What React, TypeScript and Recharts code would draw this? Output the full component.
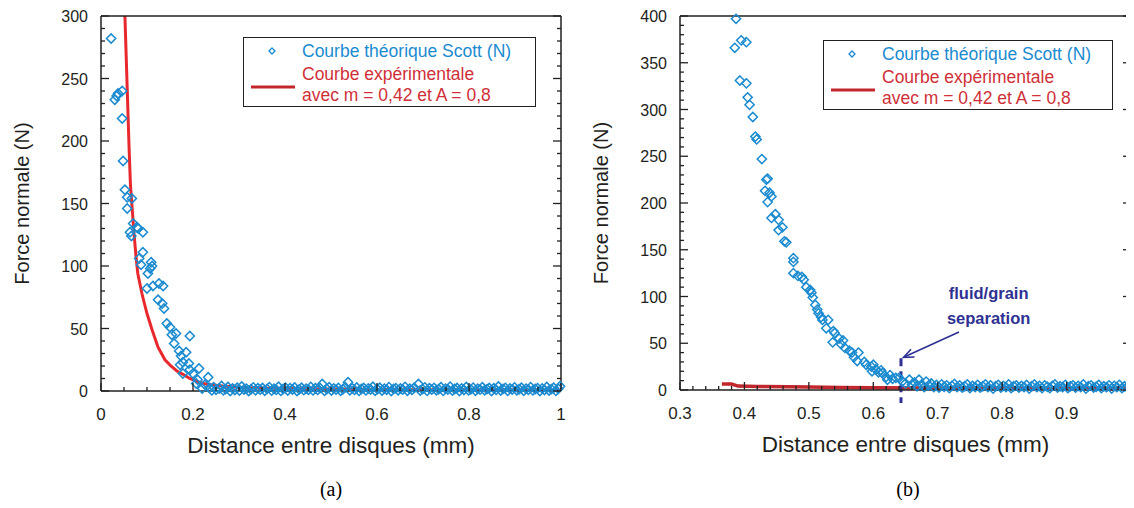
import { ComposedChart, Line, ReferenceDot, ReferenceLine, Scatter, XAxis, YAxis } from 'recharts';

const BLUE = '#1b8bd0';
const RED = '#e8282d';
const DARK_RED = '#c1272d';
const RED_TEXT = '#cf3038';
const NAVY = '#2e3192';
const AXIS = '#231f20';
const SANS = "'Liberation Sans', Arial, Helvetica, sans-serif";

type Pt = [number, number];

// ---- (a) data ----
const scottA: Pt[] = [
  [0.022, 282], [0.030, 233], [0.034, 236], [0.037, 238], [0.046, 240], [0.046, 218], [0.048, 184],
  [0.052, 161], [0.057, 155], [0.057, 146], [0.067, 154], [0.07, 134], [0.063, 127], [0.066, 124],
  [0.078, 131], [0.081, 130], [0.091, 127], [0.091, 111], [0.083, 106], [0.087, 101], [0.109, 103],
  [0.111, 100], [0.107, 98], [0.102, 94], [0.1, 82], [0.113, 84], [0.126, 86], [0.135, 84],
  [0.124, 73], [0.133, 70], [0.137, 66], [0.143, 54], [0.15, 51], [0.154, 45], [0.163, 46],
  [0.159, 38], [0.193, 44], [0.17, 32], [0.185, 31], [0.174, 28], [0.178, 23], [0.191, 22],
  [0.172, 21], [0.178, 14], [0.193, 17], [0.2, 14], [0.213, 18], [0.207, 6], [0.233, 11],
  [0.226, 5], [0.22, 2], [0.241, 0.5], [0.21, 9], [0.245, 3],
  [0.236, 2.5], [0.25, 1], [0.257, 2], [0.262, 4], [0.266, 0.5], [0.271, 1.5], [0.276, 3.2],
  [0.281, 0], [0.286, 2.1], [0.291, 0.8], [0.296, 2.6], [0.301, 0.4], [0.306, 3.6], [0.311, 1.2],
  [0.316, 1.9], [0.321, 0], [0.326, 1.4], [0.331, 2.9], [0.336, 0.6], [0.341, 2.2], [0.346, 1.1],
  [0.351, 2.4], [0.356, 0.2], [0.361, 1.7], [0.366, 3.1], [0.371, 0.3], [0.376, 1.8], [0.381, 0.9],
  [0.386, 3.4], [0.391, 0.1], [0.396, 1.6], [0.401, 2.7], [0.406, 0.4], [0.411, 2.3], [0.416, 1.2],
  [0.421, 2.8], [0.426, 0], [0.431, 1.3], [0.436, 2.6], [0.441, 0.7], [0.446, 1.9], [0.451, 1],
  [0.456, 3.3], [0.461, 0.5], [0.466, 2.2], [0.471, 0.9], [0.476, 2.4], [0.481, 5.6], [0.486, 0.1],
  [0.491, 1.6], [0.496, 3], [0.501, 0.4], [0.506, 2.1], [0.511, 1.1], [0.516, 2.5], [0.521, 0.2],
  [0.526, 1.4], [0.531, 3.1], [0.537, 7], [0.541, 0.6], [0.546, 2.2], [0.551, 0.9], [0.556, 2.8],
  [0.561, 0.1], [0.566, 1.6], [0.571, 2.4], [0.576, 0.5], [0.581, 2.1], [0.586, 1.2], [0.591, 3.4],
  [0.596, 0.2], [0.601, 1.5], [0.606, 2.6], [0.611, 0.4], [0.616, 1.9], [0.621, 1], [0.626, 3.1],
  [0.631, 0], [0.636, 1.7], [0.641, 2.3], [0.646, 0.6], [0.651, 2], [0.656, 1.1], [0.661, 3.3],
  [0.666, 0.2], [0.671, 1.8], [0.676, 0.9], [0.681, 2.6], [0.69, 5.6], [0.694, 0.4], [0.699, 1.5],
  [0.704, 2.9], [0.709, 0.1], [0.714, 2.2], [0.719, 1.1], [0.724, 2.5], [0.729, 0.6], [0.734, 1.4],
  [0.739, 3], [0.744, 0.1], [0.749, 1.9], [0.754, 1.2], [0.759, 3.5], [0.764, 0.4], [0.769, 1.6],
  [0.774, 2.4], [0.779, 0], [0.784, 2.1], [0.789, 0.8], [0.794, 3.2], [0.799, 0.5], [0.804, 1.3],
  [0.809, 2.7], [0.814, 0.2], [0.819, 1.8], [0.824, 1.1], [0.829, 3], [0.834, 0.6], [0.839, 1.5],
  [0.844, 2.4], [0.849, 0], [0.854, 2.2], [0.859, 0.9], [0.864, 3.6], [0.869, 0.4], [0.874, 1.7],
  [0.879, 2.5], [0.884, 0.1], [0.889, 2], [0.894, 1.2], [0.899, 2.9], [0.904, 0.6], [0.909, 1.4],
  [0.914, 2.6], [0.919, 0.2], [0.924, 1.9], [0.929, 1], [0.934, 3.1], [0.939, 0.5], [0.944, 1.6],
  [0.949, 2.3], [0.954, 0], [0.959, 2.1], [0.964, 0.8], [0.969, 3.2], [0.974, 0.4], [0.979, 1.5],
  [0.984, 2.6], [0.989, 0.1], [0.994, 1.8], [0.998, 3.8],
];

const expA: Pt[] = [
  [0.052, 300], [0.055, 265], [0.058, 230], [0.061, 195], [0.064, 165], [0.068, 145], [0.072, 125],
  [0.076, 108], [0.08, 94], [0.085, 85], [0.089, 78], [0.095, 69], [0.1, 62], [0.111, 49],
  [0.124, 35], [0.139, 25], [0.152, 20], [0.165, 16], [0.18, 13], [0.193, 10], [0.21, 7.5],
  [0.222, 6], [0.24, 5], [0.265, 4], [0.3, 3], [0.34, 2.4], [0.4, 2], [0.5, 1.6], [0.6, 1.3],
  [0.7, 1.1], [0.8, 1], [0.9, 0.9], [1, 0.8],
];

// ---- (b) data ----
const scottB: Pt[] = [
  [0.387, 397], [0.395, 374], [0.403, 372], [0.385, 366], [0.393, 331], [0.403, 328], [0.405, 313],
  [0.408, 305], [0.413, 292], [0.417, 271], [0.419, 268], [0.427, 247], [0.436, 226], [0.432, 213],
  [0.439, 211], [0.442, 207], [0.436, 201], [0.434, 225], [0.448, 188], [0.442, 184], [0.453, 182],
  [0.459, 174], [0.453, 171], [0.462, 159], [0.465, 158], [0.476, 141], [0.476, 137], [0.476, 125],
  [0.483, 122], [0.489, 121], [0.492, 118], [0.496, 110], [0.502, 107], [0.504, 104], [0.506, 99],
  [0.51, 91], [0.513, 86], [0.515, 82], [0.519, 78], [0.521, 75], [0.53, 75], [0.527, 66],
  [0.538, 63], [0.54, 61], [0.537, 51], [0.547, 55], [0.553, 53], [0.55, 49], [0.556, 45],
  [0.563, 42], [0.567, 40], [0.577, 40], [0.57, 35], [0.575, 31], [0.586, 30], [0.589, 27],
  [0.597, 25], [0.598, 20], [0.608, 19], [0.614, 18], [0.62, 14], [0.622, 11], [0.6, 27],
  [0.604, 22], [0.612, 21], [0.626, 16], [0.63, 12], [0.635, 13], [0.64, 13], [0.645, 9],
  [0.65, 7], [0.656, 11], [0.66, 6], [0.664, 8], [0.668, 4], [0.671, 11], [0.675, 6],
  [0.679, 3], [0.682, 9], [0.686, 5], [0.69, 7], [0.694, 3], [0.698, 5.5], [0.702, 2.5],
  [0.706, 6], [0.71, 3.5], [0.714, 5], [0.718, 2], [0.722, 4.5], [0.726, 6.5], [0.73, 3],
  [0.734, 5], [0.738, 2.5], [0.742, 4], [0.746, 6], [0.75, 2], [0.754, 4.5], [0.758, 3],
  [0.762, 5.5], [0.766, 2.5], [0.77, 4], [0.774, 6], [0.778, 3], [0.782, 5], [0.786, 1.5],
  [0.79, 4], [0.794, 5.5], [0.798, 2.5], [0.802, 4.5], [0.806, 3], [0.81, 6], [0.814, 2],
  [0.818, 4], [0.822, 5], [0.826, 2.5], [0.83, 4.5], [0.834, 3], [0.838, 5.5], [0.842, 1.5],
  [0.846, 4], [0.85, 6], [0.854, 3], [0.858, 4.5], [0.862, 2], [0.866, 5], [0.87, 3.5],
  [0.874, 2], [0.878, 4.5], [0.882, 6], [0.886, 2.5], [0.89, 4], [0.894, 3], [0.898, 5.5],
  [0.902, 2], [0.906, 4], [0.91, 5], [0.914, 2.5], [0.918, 4.5], [0.922, 3], [0.926, 6],
  [0.93, 1.5], [0.934, 4], [0.938, 5], [0.942, 2.5], [0.946, 3.5], [0.95, 5.5], [0.954, 2],
  [0.958, 4], [0.962, 3], [0.966, 5], [0.97, 1.5], [0.974, 4.5], [0.978, 3], [0.982, 5.5],
  [0.986, 2], [0.99, 4], [0.994, 3], [0.998, 6],
];

const expB: Pt[] = [
  [0.365, 6.5], [0.38, 6.4], [0.39, 4.2], [0.42, 3.8], [0.47, 3.5], [0.5, 3.3], [0.55, 2.8],
  [0.6, 2.4], [0.7, 2.1], [0.8, 1.9], [0.9, 1.7], [1, 1.6],
];

// ---- ticks ----
const xMajorA = [0, 0.2, 0.4, 0.6, 0.8, 1];
const yMajorA = [0, 50, 100, 150, 200, 250, 300];
const xMajorB = [0.3, 0.4, 0.5, 0.6, 0.7, 0.8, 0.9, 1];
const yMajorB = [0, 50, 100, 150, 200, 250, 300, 350, 400];

const range = (start: number, stop: number, step: number) => {
  const out: number[] = [];
  const n = Math.round((stop - start) / step);
  for (let i = 0; i <= n; i++) out.push(+(start + i * step).toFixed(4));
  return out;
};
const xMinorA = range(0, 1, 0.05);
const yMinorA = range(0, 300, 10);
const xMinorB = range(0.3, 1, 0.02);
const yMinorB = range(0, 400, 10);

const toRows = (pts: Pt[]) => pts.map(([x, y]) => ({ x, y }));
const fmtX = (v: number) => (v === 0 ? '0' : v === 1 ? '1' : String(v));

type Side = 'bottom' | 'top' | 'left' | 'right';

function AxisTick(props: any) {
  const { x, y, payload, side, majors, showLabel } = props as {
    x: number;
    y: number;
    payload: { value: number };
    side: Side;
    majors: number[];
    showLabel?: boolean;
  };
  const v = payload.value;
  const major = majors.some((m) => Math.abs(m - v) < 1e-6);
  const len = major ? 8 : 4;
  let line;
  if (side === 'bottom') line = <line x1={x} y1={y} x2={x} y2={y - len} />;
  else if (side === 'top') line = <line x1={x} y1={y} x2={x} y2={y + len} />;
  else if (side === 'left') line = <line x1={x} y1={y} x2={x + len} y2={y} />;
  else line = <line x1={x} y1={y} x2={x - len} y2={y} />;
  return (
    <g stroke={AXIS} strokeWidth={1.3}>
      {line}
      {showLabel && major && side === 'bottom' ? (
        <text x={x} y={y + 29} textAnchor="middle" stroke="none" fill={AXIS} fontSize={17} fontFamily={SANS}>
          {fmtX(v)}
        </text>
      ) : null}
      {showLabel && major && side === 'left' ? (
        <text x={x - 13} y={y + 6} textAnchor="end" stroke="none" fill={AXIS} fontSize={16} fontFamily={SANS}>
          {v}
        </text>
      ) : null}
    </g>
  );
}

const Diamond = (props: any) => {
  const { cx, cy } = props;
  if (cx == null || cy == null) return <g />;
  const r = 4.6;
  return (
    <polygon
      points={`${cx},${cy - r} ${cx + r},${cy} ${cx},${cy + r} ${cx - r},${cy}`}
      fill="none"
      stroke={BLUE}
      strokeWidth={1.5}
    />
  );
};

const YTitle = (dx: number) => (props: any) => {
  const { x, y, height } = props.viewBox;
  const cx = x + dx;
  const cy = y + height / 2;
  return (
    <text
      x={cx}
      y={cy}
      transform={`rotate(-90 ${cx} ${cy})`}
      textAnchor="middle"
      dominantBaseline="central"
      fontSize={20}
      fontFamily={SANS}
      fill={AXIS}
    >
      Force normale (N)
    </text>
  );
};

const XTitle = (props: any) => {
  const { x, y, width } = props.viewBox;
  return (
    <text x={x + width / 2} y={y + 62} textAnchor="middle" fontSize={22.5} fontFamily={SANS} fill={AXIS}>
      Distance entre disques (mm)
    </text>
  );
};

const Arrow = (props: any) => {
  const { x1, y1, x2, y2 } = props;
  const a = Math.atan2(y2 - y1, x2 - x1);
  const h = 11;
  const s = 0.4;
  return (
    <g stroke={NAVY} strokeWidth={1.6} fill="none">
      <line x1={x1} y1={y1} x2={x2} y2={y2} />
      <polyline
        points={`${x2 - h * Math.cos(a - s)},${y2 - h * Math.sin(a - s)} ${x2},${y2} ${x2 - h * Math.cos(a + s)},${y2 - h * Math.sin(a + s)}`}
      />
    </g>
  );
};

const Note = (props: any) => {
  const { cx, cy } = props;
  return (
    <g fill={NAVY} fontFamily={SANS} fontWeight="bold" fontSize={16.5} textAnchor="middle">
      <text x={cx} y={cy}>fluid/grain</text>
      <text x={cx} y={cy + 25}>separation</text>
    </g>
  );
};

type PanelProps = {
  scott: Pt[];
  exp: Pt[];
  xDomain: [number, number];
  yDomain: [number, number];
  xMajor: number[];
  xMinor: number[];
  yMajor: number[];
  yMinor: number[];
  width: number;
  height: number;
  margin: { top: number; right: number; bottom: number; left: number };
  yAxisWidth: number;
  xAxisHeight: number;
  yTitleX: number;
  lineColor: string;
  lineWidth: number;
  children?: any;
};

// top and right axes are 1px wide: they only carry the box edge and its inner ticks
function Panel(p: PanelProps) {
  const axisLine = { stroke: AXIS, strokeWidth: 1.5 };
  return (
    <ComposedChart width={p.width} height={p.height} margin={p.margin}>
      <XAxis
        dataKey="x"
        type="number"
        domain={p.xDomain}
        ticks={p.xMinor}
        interval={0}
        height={p.xAxisHeight}
        tickSize={0}
        tickMargin={0}
        tickLine={false}
        axisLine={axisLine}
        tick={(t: any) => <AxisTick {...t} side="bottom" majors={p.xMajor} showLabel />}
        label={XTitle}
      />
      <XAxis
        xAxisId="top"
        orientation="top"
        type="number"
        domain={p.xDomain}
        allowDataOverflow
        ticks={p.xMinor}
        interval={0}
        height={1}
        tickSize={0}
        tickMargin={0}
        tickLine={false}
        axisLine={axisLine}
        tick={(t: any) => <AxisTick {...t} side="top" majors={p.xMajor} />}
      />
      <YAxis
        dataKey="y"
        type="number"
        domain={p.yDomain}
        ticks={p.yMinor}
        interval={0}
        width={p.yAxisWidth}
        tickSize={0}
        tickMargin={0}
        tickLine={false}
        axisLine={axisLine}
        tick={(t: any) => <AxisTick {...t} side="left" majors={p.yMajor} showLabel />}
        label={YTitle(p.yTitleX)}
      />
      <YAxis
        yAxisId="right"
        orientation="right"
        type="number"
        domain={p.yDomain}
        allowDataOverflow
        ticks={p.yMinor}
        interval={0}
        width={1}
        tickSize={0}
        tickMargin={0}
        tickLine={false}
        axisLine={axisLine}
        tick={(t: any) => <AxisTick {...t} side="right" majors={p.yMajor} />}
      />
      <Line
        data={toRows(p.exp)}
        dataKey="y"
        type="linear"
        stroke={p.lineColor}
        strokeWidth={p.lineWidth}
        dot={false}
        activeDot={false}
        isAnimationActive={false}
      />
      <Scatter data={toRows(p.scott)} dataKey="y" shape={Diamond} isAnimationActive={false} />
      {p.children}
    </ComposedChart>
  );
}

type LegendBoxProps = { left: number; top: number; width: number };

function LegendBox({ left, top, width }: LegendBoxProps) {
  const text = { position: 'absolute' as const, left: 58, fontSize: 17.5, fontFamily: SANS, whiteSpace: 'nowrap' as const, lineHeight: '20px' };
  return (
    <div
      style={{
        position: 'absolute',
        left,
        top,
        width,
        height: 70,
        border: `1.5px solid ${AXIS}`,
        background: '#fff',
        boxSizing: 'border-box',
      }}
    >
      <svg style={{ position: 'absolute', left: 0, top: 0 }} width={60} height={70}>
        <polygon points="28,10 31,13 28,16 25,13" fill="none" stroke={BLUE} strokeWidth={1.3} />
        <line x1={7} y1={49} x2={51} y2={49} stroke={DARK_RED} strokeWidth={3} />
      </svg>
      <div style={{ ...text, top: 3, color: BLUE }}>Courbe théorique Scott (N)</div>
      <div style={{ ...text, top: 26, color: RED_TEXT }}>Courbe expérimentale</div>
      <div style={{ ...text, top: 47, color: RED_TEXT }}>avec m = 0,42 et A = 0,8</div>
    </div>
  );
}

export default function App() {
  return (
    <div style={{ position: 'relative', width: 1134, height: 508, margin: -8, background: '#fff', overflow: 'hidden' }}>
      <div style={{ position: 'absolute', left: 0, top: 0 }}>
        <Panel
          scott={scottA}
          exp={expA}
          xDomain={[0, 1]}
          yDomain={[0, 300]}
          xMajor={xMajorA}
          xMinor={xMinorA}
          yMajor={yMajorA}
          yMinor={yMinorA}
          width={580}
          height={470}
          margin={{ top: 15, right: 18, bottom: 0, left: 0 }}
          yAxisWidth={101}
          xAxisHeight={79}
          yTitleX={22}
          lineColor={RED}
          lineWidth={3}
        />
      </div>
      <div style={{ position: 'absolute', left: 580, top: 0 }}>
        <Panel
          scott={scottB}
          exp={expB}
          xDomain={[0.3, 1]}
          yDomain={[0, 400]}
          xMajor={xMajorB}
          xMinor={xMinorB}
          yMajor={yMajorB}
          yMinor={yMinorB}
          width={554}
          height={470}
          margin={{ top: 15, right: 2, bottom: 0, left: 0 }}
          yAxisWidth={100}
          xAxisHeight={80}
          yTitleX={21}
          lineColor={DARK_RED}
          lineWidth={3.5}
        >
          <ReferenceLine
            segment={[{ x: 0.643, y: 34 }, { x: 0.643, y: -14 }]}
            stroke={NAVY}
            strokeWidth={3}
            strokeDasharray="8 5"
            ifOverflow="visible"
          />
          <ReferenceLine
            segment={[{ x: 0.733, y: 62 }, { x: 0.647, y: 35 }]}
            ifOverflow="visible"
            shape={Arrow}
          />
          <ReferenceDot x={0.779} y={97} r={0} ifOverflow="visible" shape={Note} />
        </Panel>
      </div>
      <LegendBox left={243} top={37} width={293} />
      <LegendBox left={823} top={40} width={290} />
      <div style={{ position: 'absolute', left: 301, width: 60, top: 478, textAlign: 'center', fontFamily: "'Liberation Serif', 'Times New Roman', serif", fontSize: 20 }}>
        (a)
      </div>
      <div style={{ position: 'absolute', left: 878, width: 60, top: 478, textAlign: 'center', fontFamily: "'Liberation Serif', 'Times New Roman', serif", fontSize: 20 }}>
        (b)
      </div>
    </div>
  );
}
